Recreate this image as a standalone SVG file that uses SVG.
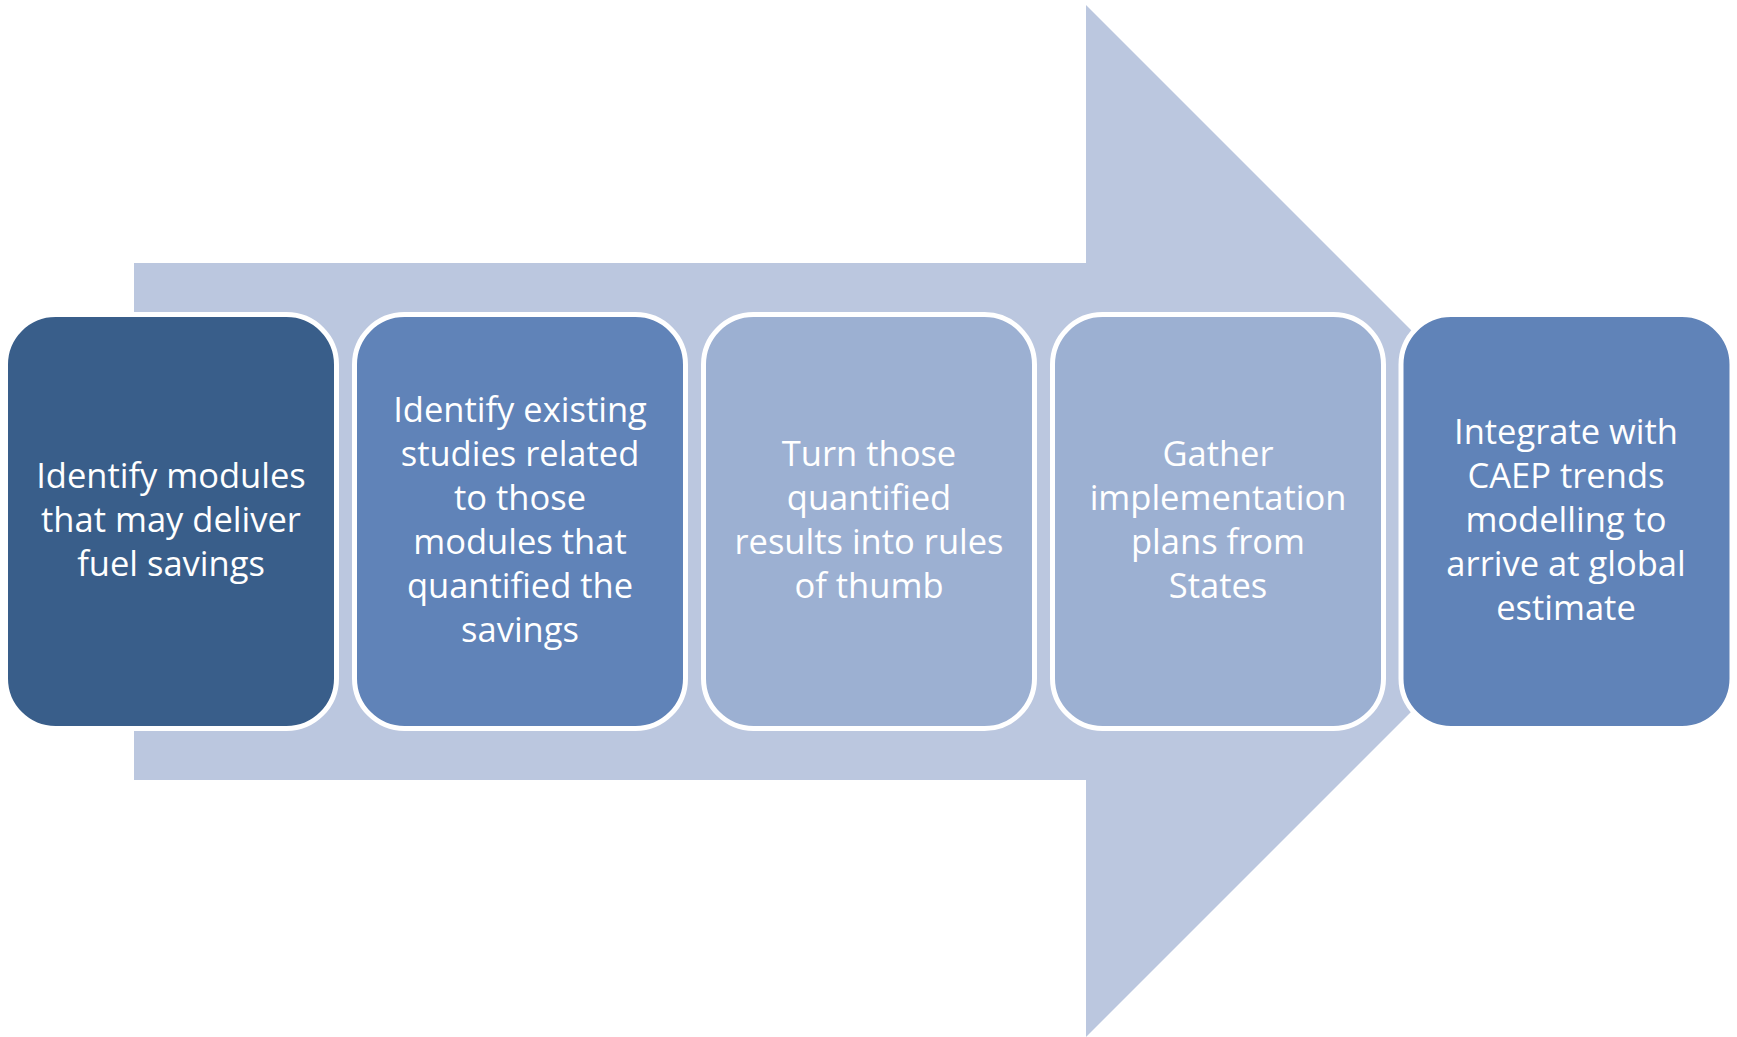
<svg xmlns="http://www.w3.org/2000/svg" width="1737" height="1037" viewBox="0 0 1737 1037">
<style>
.box{stroke:#FFFFFF;stroke-width:5}
.t{font-family:"Open Sans","Noto Sans","Liberation Sans",sans-serif;font-size:34.5px;fill:#FFFFFF;text-anchor:middle}
</style>
<rect width="1737" height="1037" fill="#FFFFFF"/>
<g id="connectors">
<polygon id="arrow" points="134,263 1086,263 1086,5 1602,521 1086,1037 1086,780 134,780" fill="#BBC7DF"/>
</g>
<g id="node1">
<rect class="box" x="5.5" y="314.5" width="331" height="414" rx="50" fill="#395E8A"/>
<text class="t"><tspan x="171" y="488">Identify modules</tspan><tspan x="171" y="532">that may deliver</tspan><tspan x="171" y="576">fuel savings</tspan></text>
</g>
<g id="node2">
<rect class="box" x="354.5" y="314.5" width="331" height="414" rx="50" fill="#6083B8"/>
<text class="t"><tspan x="520" y="422">Identify existing</tspan><tspan x="520" y="466">studies related</tspan><tspan x="520" y="510">to those</tspan><tspan x="520" y="554">modules that</tspan><tspan x="520" y="598">quantified the</tspan><tspan x="520" y="642">savings</tspan></text>
</g>
<g id="node3">
<rect class="box" x="703.5" y="314.5" width="331" height="414" rx="50" fill="#9CB0D2"/>
<text class="t"><tspan x="869" y="466">Turn those</tspan><tspan x="869" y="510">quantified</tspan><tspan x="869" y="554">results into rules</tspan><tspan x="869" y="598">of thumb</tspan></text>
</g>
<g id="node4">
<rect class="box" x="1052.5" y="314.5" width="331" height="414" rx="50" fill="#9CB0D2"/>
<text class="t"><tspan x="1218" y="466">Gather</tspan><tspan x="1218" y="510">implementation</tspan><tspan x="1218" y="554">plans from</tspan><tspan x="1218" y="598">States</tspan></text>
</g>
<g id="node5">
<rect class="box" x="1401" y="314.5" width="331" height="414" rx="50" fill="#6083B8"/>
<text class="t"><tspan x="1566" y="444">Integrate with</tspan><tspan x="1566" y="488">CAEP trends</tspan><tspan x="1566" y="532">modelling to</tspan><tspan x="1566" y="576">arrive at global</tspan><tspan x="1566" y="620">estimate</tspan></text>
</g>
</svg>
